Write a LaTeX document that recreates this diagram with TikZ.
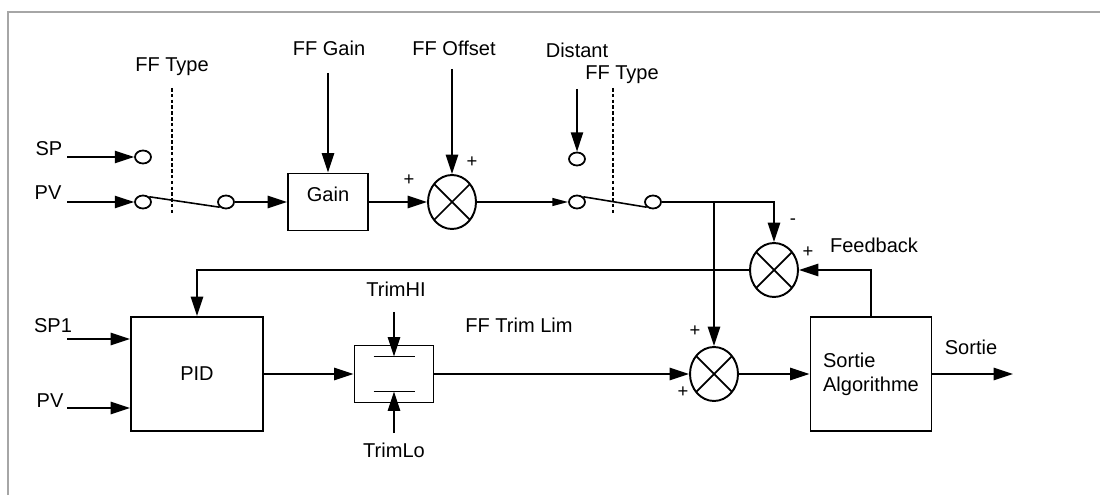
\documentclass[tikz,border=0pt]{standalone}
\usepackage{fontspec}
\setmainfont{Liberation Sans}
\usetikzlibrary{arrows.meta,shapes.geometric}

\begin{document}
\begin{tikzpicture}[
  font=\fontsize{11.4}{13.6}\selectfont,
  bloc/.style={draw=black, line width=1.1pt, fill=white, align=center, inner sep=2pt},
  sommateur/.style={ellipse, draw=black, line width=1.1pt, inner sep=0pt,
                    minimum width=0.96cm, minimum height=1.08cm,
                    path picture={\draw[line width=1pt]
                      (path picture bounding box.center) +(-1,-1) -- +(1,1)
                      (path picture bounding box.center) +(-1,1) -- +(1,-1);}},
  contact/.style={ellipse, draw=black, line width=1pt, inner sep=0pt,
                  minimum width=0.32cm, minimum height=0.26cm},
  etiquette/.style={inner sep=0pt, anchor=base},
  signe/.style={inner sep=0pt, font=\fontsize{10.5}{12}\selectfont},
  liaison/.style={draw=black, line width=0.9pt},
  fleche/.style={liaison, -{Triangle[length=11pt, width=7pt]}},
  petitefleche/.style={liaison, -{Triangle[length=9pt, width=4.5pt]}},
  pointilles/.style={draw=black, line width=0.8pt, dash pattern=on 2pt off 1.3pt}
]
\useasboundingbox (0,0) rectangle (22,9.9);

% ---- cadre gris (haut et gauche seulement) ---------------------------
\draw[black!35, line width=1.1pt] (0.16,0) -- (0.16,9.66) -- (22,9.66);

% ---- blocs -----------------------------------------------------------
\node[bloc, minimum width=1.6cm, minimum height=1.14cm, text height=6pt, text depth=6pt]
  (gain) at (6.56,5.86) {Gain};
\node[bloc, minimum width=2.64cm, minimum height=2.28cm] (pid) at (3.94,2.42) {PID};
\node[bloc, minimum width=1.58cm, minimum height=1.14cm] (trim) at (7.88,2.42) {};
\node[bloc, align=left, minimum width=2.42cm, minimum height=2.28cm] (sortie) at (17.42,2.42)
  {Sortie\\Algorithme};

\node[sommateur] (som1) at (9.04,5.86) {};
\node[sommateur] (som2) at (15.48,4.50) {};
\node[sommateur] (som3) at (14.28,2.42) {};

% ---- contacts des commutateurs ---------------------------------------
\node[contact] (contactSP)   at (2.86,6.76) {};
\node[contact] (contactPV)   at (2.86,5.86) {};
\node[contact] (contactA)    at (4.52,5.86) {};
\node[contact] (contactDist) at (11.54,6.72) {};
\node[contact] (contactB)    at (11.54,5.86) {};
\node[contact] (contactC)    at (13.06,5.86) {};

% ---- textes (positionnes sur la ligne de base) -----------------------
\node[etiquette] (txtSP)      at (0.98,6.78) {SP};
\node[etiquette] (txtPV)      at (0.96,5.90) {PV};
\node[etiquette] (txtType1)   at (3.44,8.46) {FF Type};
\node[etiquette] (txtGain)    at (6.58,8.78) {FF Gain};
\node[etiquette] (txtOffset)  at (9.08,8.78) {FF Offset};
\node[etiquette] (txtDistant) at (11.54,8.74) {Distant};
\node[etiquette] (txtType2)   at (12.44,8.30) {FF Type};
\node[etiquette] (txtFeed)    at (17.48,4.84) {Feedback};
\node[etiquette] (txtSP1)     at (1.06,3.26) {SP1};
\node[etiquette] (txtPV2)     at (1.00,1.76) {PV};
\node[etiquette] (txtTrimHI)  at (7.92,3.96) {TrimHI};
\node[etiquette] (txtTrimLo)  at (7.88,0.76) {TrimLo};
\node[etiquette] (txtTrimLim) at (10.38,3.24) {FF Trim Lim};
\node[etiquette] (txtSortie)  at (19.42,2.80) {Sortie};

\node[signe] (plus1) at (8.18,6.30) {+};
\node[signe] (plus2) at (9.44,6.66) {+};
\node[signe] (moins) at (15.86,5.46) {-};
\node[signe] (plus3) at (16.16,4.86) {+};
\node[signe] (plus4) at (13.90,3.28) {+};
\node[signe] (plus5) at (13.66,2.06) {+};

% ---- extremites libres -----------------------------------------------
\coordinate (entreeSP)   at (1.34,6.76);
\coordinate (entreePV)   at (1.34,5.86);
\coordinate (entreeSP1)  at (1.34,3.12);
\coordinate (entreePV2)  at (1.34,1.74);
\coordinate (depGain)    at (6.56,8.44);
\coordinate (depOffset)  at (9.04,8.52);
\coordinate (depDist)    at (11.54,8.12);
\coordinate (limHaute)   at (7.88,2.77);
\coordinate (limBasse)   at (7.88,2.07);
\coordinate (depTrimHI)  at (7.88,3.66);
\coordinate (depTrimLo)  at (7.88,1.24);
\coordinate (sortieFin)  at (20.26,2.42);

% ---- separations FF Type ---------------------------------------------
\draw[pointilles] (3.44,8.14) -- (3.44,5.60);
\draw[pointilles] (12.26,8.14) -- (12.26,5.60);

% ---- limiteur ----------------------------------------------------------
\draw[liaison, line width=1.1pt] ([xshift=-0.41cm]limHaute) -- ([xshift=0.41cm]limHaute);
\draw[liaison, line width=1.1pt] ([xshift=-0.41cm]limBasse) -- ([xshift=0.41cm]limBasse);

% ---- liaisons ----------------------------------------------------------
\draw[fleche] (entreeSP) -- (contactSP);
\draw[fleche] (entreePV) -- (contactPV);
\draw[liaison] (contactPV.north east) -- (contactA.south west);   % commutateur 1
\draw[fleche] (contactA) -- (gain);
\draw[fleche] (depGain) -- (gain.north);
\draw[fleche] (gain) -- (som1);
\draw[fleche] (depOffset) -- (som1.north);
\draw[petitefleche] (som1) -- (contactB);
\draw[fleche] (depDist) -- (contactDist.north);
\draw[liaison] (contactB.north east) -- (contactC.south west);   % commutateur 2
\draw[fleche] (contactC.east) -| (som2.north);
\draw[fleche] (contactC.east -| som3.north) -- (som3.north);
\draw[fleche] (sortie.north) |- (som2.east);                        % feedback
\draw[fleche] (som2.west) -| (pid.north);
\draw[fleche] (entreeSP1) -- (entreeSP1 -| pid.west);
\draw[fleche] (entreePV2) -- (entreePV2 -| pid.west);
\draw[fleche] (pid) -- (trim);
\draw[fleche] (depTrimHI) -- (limHaute);
\draw[fleche] (depTrimLo) -- (limBasse);
\draw[fleche] (trim) -- (som3);
\draw[fleche] (som3) -- (sortie);
\draw[fleche] (sortie) -- (sortieFin);

\end{tikzpicture}
\end{document}
